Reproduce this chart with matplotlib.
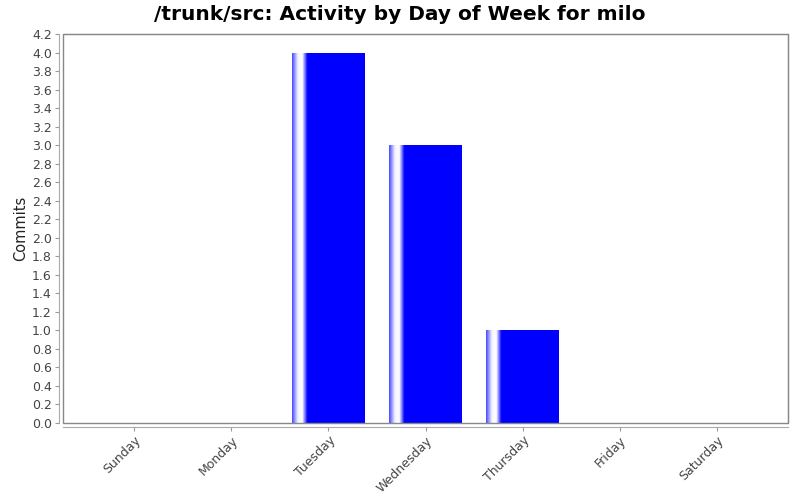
import matplotlib
matplotlib.use("Agg")
from matplotlib import pyplot as plt
from matplotlib.colors import LinearSegmentedColormap
import matplotlib.patches as patches
import numpy as np

days = ["Sunday", "Monday", "Tuesday", "Wednesday", "Thursday", "Friday", "Saturday"]
commits = [0, 0, 4, 3, 1, 0, 0]
yticks = [round(0.2 * i, 1) for i in range(22)]

fig = plt.figure(figsize=(8, 5), dpi=100)
ax = fig.add_axes([63 / 800, 1 - 423 / 500, 725 / 800, 389 / 500])

# plot frame plus offset axis lines (do this first: set_position resets ticks)
for s in ["top", "right"]:
    ax.spines[s].set_color("#888888")
for s in ["left", "bottom"]:
    ax.spines[s].set_position(("outward", 3))
    ax.spines[s].set_color("#aaaaaa")
ax.add_patch(patches.Rectangle((0, 0), 1, 1, transform=ax.transAxes, fill=False,
                               edgecolor="#888888", linewidth=1, zorder=5,
                               clip_on=False))

# gradient used by each bar: white highlight near the left edge
cmap = LinearSegmentedColormap.from_list(
    "bar", [(0, "#4646ff"), (0.08, "#f4f4ff"), (0.14, "#ffffff"),
            (0.21, "#0000ff"), (1, "#0000ff")])
grad = np.linspace(0, 1, 256).reshape(1, -1)
width = 0.75

for i, v in enumerate(commits):
    if v <= 0:
        continue
    x0 = i - width / 2
    im = ax.imshow(grad, cmap=cmap, aspect="auto", interpolation="bilinear",
                   extent=(x0, x0 + width, 0, v), zorder=2)
    clip = patches.Rectangle((x0, 0), width, v, transform=ax.transData,
                             facecolor="none", edgecolor="none")
    ax.add_patch(clip)
    im.set_clip_path(clip)

ax.set_xlim(-0.737, 6.737)
ax.set_ylim(0, 4.2)
ax.set_xticks(range(len(days)))
ax.set_xticklabels(days, rotation=45, ha="right", rotation_mode="anchor",
                   fontsize=9, color="#444444")
ax.set_yticks(yticks)
ax.set_yticklabels(["%.1f" % t for t in yticks], fontsize=9, color="#444444")
ax.tick_params(axis="both", length=3, color="#999999", pad=2)

ax.set_ylabel("Commits", fontsize=10.5, color="#222222", labelpad=3)
fig.suptitle("/trunk/src: Activity by Day of Week for milo", fontsize=14.5,
             fontweight="bold", y=0.99)

fig.savefig("out.png", dpi=100)
